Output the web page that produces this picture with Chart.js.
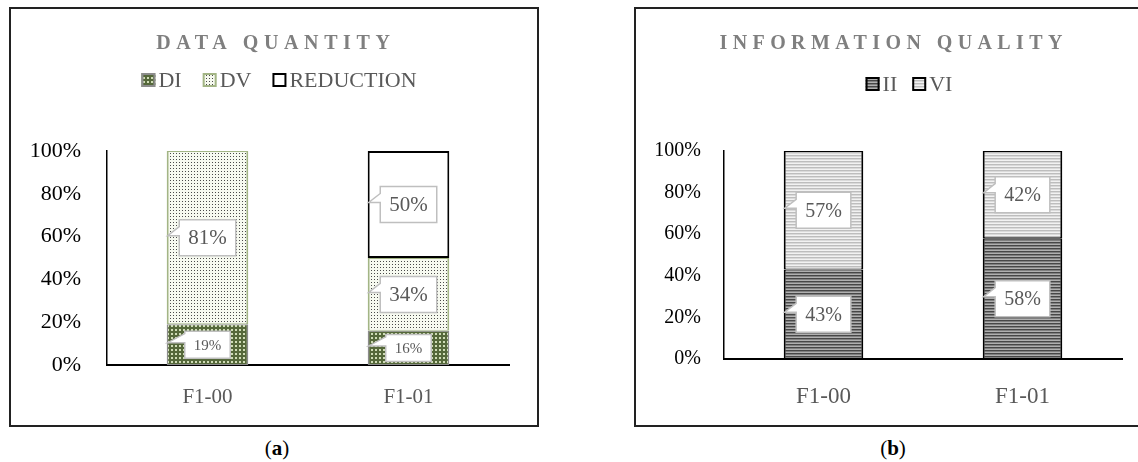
<!DOCTYPE html>
<html>
<head>
<meta charset="utf-8">
<script src="https://cdn.jsdelivr.net/npm/chart.js@4"></script>
<style>
  body { margin: 0; background: #fff; width: 1138px; height: 462px; overflow: hidden; position: relative; }
  .frame { position: absolute; border: 2px solid #222; box-sizing: border-box; }
  .wrap { position: absolute; }
  .cap { position: absolute; font: 21px "Liberation Serif", serif; color: #000; transform: translateX(-50%); }
</style>
</head>
<body>
<div class="frame" style="left:9px;top:7px;width:530px;height:420px"></div>
<div class="frame" style="left:634px;top:7px;width:600px;height:420px"></div>
<div class="wrap" style="left:10px;top:8px"><canvas id="qty" width="528" height="418"></canvas></div>
<div class="wrap" style="left:635px;top:8px"><canvas id="qual" width="512" height="418"></canvas></div>
<div class="cap" style="left:277px;top:436px">(<b>a</b>)</div>
<div class="cap" style="left:893px;top:436px">(<b>b</b>)</div>
<script>
// data
const categories = ['F1-00', 'F1-01'];
const yTicks = ['0%', '20%', '40%', '60%', '80%', '100%'];

const di = [0.19, 0.16];
const dv = [0.81, 0.34];
const reduction = [0, 0.50];

const ii = [0.43, 0.58];
const vi = [0.57, 0.42];

const serif = '"Liberation Serif", serif';

function makePattern(w, h, draw) {
    const c = document.createElement('canvas');
    c.width = w;
    c.height = h;
    const g = c.getContext('2d');
    draw(g);
    return g.createPattern(c, 'repeat');
}

const diFill = makePattern(4, 4, g => {
    g.fillStyle = '#55683a';
    g.fillRect(0, 0, 4, 4);
    g.fillStyle = '#cfdcb6';
    g.fillRect(1, 1, 2, 2);
});
const dvFill = makePattern(3, 3, g => {
    g.fillStyle = '#f7faf0';
    g.fillRect(0, 0, 3, 3);
    g.fillStyle = '#4a4a4a';
    g.fillRect(1, 1, 1, 1);
});
const iiFill = makePattern(2, 3, g => {
    g.fillStyle = '#474747';
    g.fillRect(0, 0, 2, 1);
    g.fillStyle = '#808080';
    g.fillRect(0, 1, 2, 1);
    g.fillStyle = '#b0b0b0';
    g.fillRect(0, 2, 2, 1);
});
const viFill = makePattern(2, 3, g => {
    g.fillStyle = '#bdbdbd';
    g.fillRect(0, 0, 2, 1);
    g.fillStyle = '#dadada';
    g.fillRect(0, 1, 2, 1);
    g.fillStyle = '#f2f2f2';
    g.fillRect(0, 2, 2, 1);
});

// title + legend drawn on the canvas so letter spacing and gaps can match
const headerPlugin = {
    id: 'header',
    afterDraw(chart, args, opts) {
        const ctx = chart.ctx;
        ctx.save();
        ctx.textBaseline = 'middle';
        ctx.font = 'bold 20px ' + serif;
        if ('letterSpacing' in ctx) ctx.letterSpacing = opts.spacing + 'px';
        ctx.fillStyle = '#7f7f7f';
        ctx.textAlign = 'center';
        ctx.fillText(opts.title, opts.titleX + opts.spacing / 2, opts.titleY);
        if ('letterSpacing' in ctx) ctx.letterSpacing = '0px';

        ctx.font = '22px ' + serif;
        ctx.textAlign = 'left';
        const box = 14, gap = 3;
        const items = chart.data.datasets.map(ds => ({ ds, w: box + gap + ctx.measureText(ds.label).width }));
        const total = items.reduce((s, it) => s + it.w, 0) + opts.itemGap * (items.length - 1);
        let x = opts.legendX - total / 2;
        items.forEach(it => {
            const y = opts.legendY - box / 2;
            ctx.fillStyle = it.ds.backgroundColor;
            ctx.fillRect(x, y, box, box);
            ctx.strokeStyle = it.ds.borderColor;
            ctx.lineWidth = 2;
            ctx.strokeRect(x + 1, y + 1, box - 2, box - 2);
            ctx.fillStyle = '#595959';
            ctx.fillText(it.ds.label, x + box + gap, opts.legendY + 1);
            x += it.w + opts.itemGap;
        });
        ctx.restore();
    }
};

// white callout boxes with a small wedge pointing at the left edge of the bar
const calloutPlugin = {
    id: 'callouts',
    afterDatasetsDraw(chart, args, opts) {
        const ctx = chart.ctx;
        ctx.save();
        chart.data.datasets.forEach((ds, d) => {
            const meta = chart.getDatasetMeta(d);
            meta.data.forEach((bar, i) => {
                const v = ds.data[i];
                if (!v) return;
                const small = (opts.smallSets || []).includes(d);
                const size = small ? opts.smallFont : opts.font;
                const h = small ? opts.smallH : opts.h;
                const text = Math.round(v * 100) + '%';
                ctx.font = size + 'px ' + serif;
                const w = ctx.measureText(text).width + opts.pad;
                const p = bar.getProps(['x', 'y', 'base', 'width'], true);
                const cx = p.x, cy = (p.y + p.base) / 2;
                const bx = cx - w / 2, by = cy - h / 2;
                const tipX = p.x - p.width / 2 + 1;
                ctx.beginPath();
                ctx.moveTo(bx, by);
                ctx.lineTo(bx + w, by);
                ctx.lineTo(bx + w, by + h);
                ctx.lineTo(bx, by + h);
                ctx.lineTo(bx, cy - 2);
                ctx.lineTo(tipX, cy - 2);
                ctx.lineTo(bx, cy - 11);
                ctx.closePath();
                ctx.fillStyle = '#fff';
                ctx.fill();
                ctx.strokeStyle = '#bfbfbf';
                ctx.lineWidth = 1.5;
                ctx.stroke();
                ctx.fillStyle = '#595959';
                ctx.textAlign = 'center';
                ctx.textBaseline = 'middle';
                ctx.fillText(text, cx, cy + 1);
            });
        });
        ctx.restore();
    }
};

function axes(cfg) {
    return {
        x: {
            stacked: true,
            grid: { display: false, drawTicks: false },
            border: { color: '#000', width: 2 },
            ticks: { font: { family: serif, size: cfg.xFont }, color: '#595959', padding: cfg.xPad },
            afterFit: s => { s.height = cfg.xHeight; }
        },
        y: {
            stacked: true,
            min: 0,
            max: 1,
            grid: { display: false, drawTicks: false },
            border: { color: '#000', width: 1.5 },
            ticks: {
                stepSize: 0.2,
                font: { family: serif, size: cfg.yFont },
                color: '#000',
                padding: cfg.yPad,
                callback: (v, i) => yTicks[i]
            },
            afterFit: s => { s.width = cfg.yWidth; }
        }
    };
}

new Chart(document.getElementById('qty'), {
    type: 'bar',
    data: {
        labels: categories,
        datasets: [
            { label: 'DI', data: di, backgroundColor: diFill, borderColor: '#8c8c8c',
              borderWidth: { left: 1.5, right: 1.5, top: 1, bottom: 1 }, borderSkipped: false },
            { label: 'DV', data: dv, backgroundColor: dvFill, borderColor: '#a3b585',
              borderWidth: { left: 2, right: 2, top: 1, bottom: 1 }, borderSkipped: false },
            { label: 'REDUCTION', data: reduction, backgroundColor: '#ffffff', borderColor: '#000',
              borderWidth: 2, borderSkipped: false }
        ]
    },
    options: {
        responsive: false,
        animation: false,
        categoryPercentage: 1,
        barPercentage: 0.406,
        layout: { padding: { left: 0, right: 29, top: 143, bottom: 0 } },
        plugins: {
            legend: { display: false },
            tooltip: { enabled: false },
            header: { title: 'DATA QUANTITY', titleX: 263, titleY: 36, spacing: 5.6,
                      legendX: 269, legendY: 72, itemGap: 21 },
            callouts: { font: 21, smallFont: 15, smallSets: [0], h: 36, smallH: 27, pad: 18 }
        },
        scales: axes({ xFont: 21, xPad: 20, xHeight: 61, yFont: 22, yPad: 26, yWidth: 97 })
    },
    plugins: [headerPlugin, calloutPlugin]
});

new Chart(document.getElementById('qual'), {
    type: 'bar',
    data: {
        labels: categories,
        datasets: [
            { label: 'II', data: ii, backgroundColor: iiFill, borderColor: '#000',
              borderWidth: { left: 2, right: 2, top: 1, bottom: 1 }, borderSkipped: false },
            { label: 'VI', data: vi, backgroundColor: viFill, borderColor: '#000',
              borderWidth: { left: 2, right: 2, top: 1, bottom: 1 }, borderSkipped: false }
        ]
    },
    options: {
        responsive: false,
        animation: false,
        categoryPercentage: 1,
        barPercentage: 0.40,
        layout: { padding: { left: 0, right: 25, top: 143, bottom: 0 } },
        plugins: {
            legend: { display: false },
            tooltip: { enabled: false },
            header: { title: 'INFORMATION QUALITY', titleX: 256, titleY: 36, spacing: 5.4,
                      legendX: 274, legendY: 76, itemGap: 15 },
            callouts: { font: 20, h: 36, pad: 18 }
        },
        scales: axes({ xFont: 23, xPad: 24, xHeight: 67, yFont: 20, yPad: 23, yWidth: 89 })
    },
    plugins: [headerPlugin, calloutPlugin]
});
</script>
</body>
</html>
